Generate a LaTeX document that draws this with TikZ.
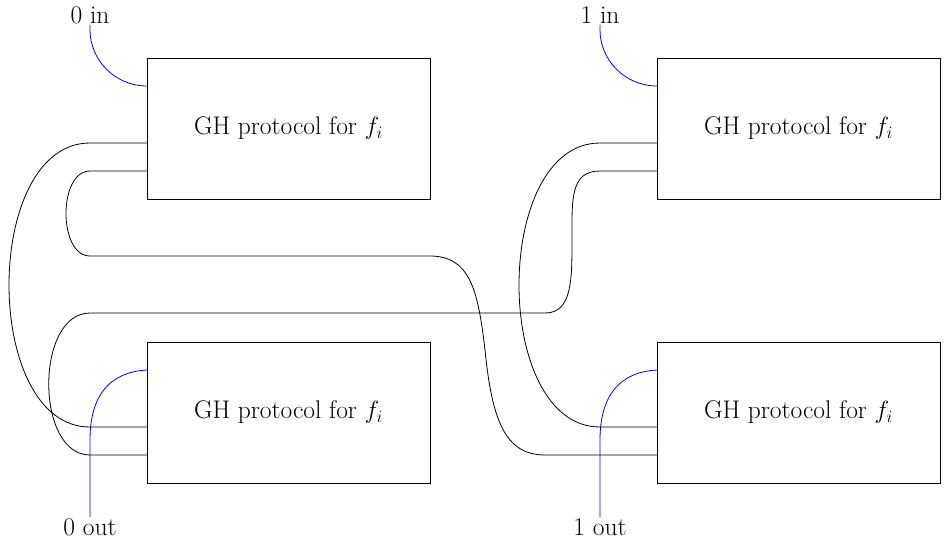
\documentclass[tikz,border=0pt]{standalone}
\begin{document}
\begin{tikzpicture}[x=1pt,y=-1pt,
  box/.style={draw,thick,minimum width=283pt,minimum height=141pt,inner sep=0pt,font=\fontsize{25.5}{30}\selectfont},
  wire/.style={thick},
  io/.style={thick,blue},
  lab/.style={font=\fontsize{25.5}{30}\selectfont,inner sep=1pt}]
\useasboundingbox (0,0) rectangle (948,542);
\node[box] (A) at (288.5,128.5) {GH protocol for $f_i$};
\node[box] (B) at (798.5,128.5) {GH protocol for $f_i$};
\node[box] (C) at (288.5,412.5) {GH protocol for $f_i$};
\node[box] (D) at (798.5,412.5) {GH protocol for $f_i$};
\node[lab] (i0) at (90,15) {0 in};
\node[lab] (i1) at (600,15) {1 in};
\node[lab] (o0) at (90,527) {0 out};
\node[lab] (o1) at (600,527) {1 out};
% ports
\coordinate (Ain) at (147,86);
\coordinate (Bin) at (657,86);
\coordinate (Cout) at (147,370);
\coordinate (Dout) at (657,370);
\coordinate (A1) at (147,143); \coordinate (A2) at (147,171);
\coordinate (B1) at (657,143); \coordinate (B2) at (657,171);
\coordinate (C1) at (147,427); \coordinate (C2) at (147,455);
\coordinate (D1) at (657,427); \coordinate (D2) at (657,455);
% blue
\draw[io] (i0.south) -- (90,30) .. controls (90,60) and (115,86) .. (Ain);
\draw[io] (i1.south) -- (600,30) .. controls (600,60) and (625,86) .. (Bin);
\draw[io] (Cout) .. controls (110,372) and (90,395) .. (90,440) -- (o0.north);
\draw[io] (Dout) .. controls (620,372) and (600,395) .. (600,440) -- (o1.north);
% black wires
\draw[wire] (A1) -- (90,143) .. controls (-18,143) and (-18,427) .. (90,427) -- (C1);
\draw[wire] (B1) -- (600,143) .. controls (492,143) and (492,427) .. (600,427) -- (D1);
\draw[wire] (A2) -- (90,171) .. controls (58,171) and (58,256) .. (90,256) -- (430,256)
  .. controls (470,256) and (478,290) .. (485,350)
  .. controls (492,420) and (505,455) .. (545,455) -- (D2);
\draw[wire] (B2) -- (600,171) .. controls (570,171) and (572,200) .. (572,240)
  .. controls (572,280) and (572,313) .. (545,313) -- (90,313)
  .. controls (35,313) and (35,455) .. (90,455) -- (C2);
\end{tikzpicture}
\end{document}
